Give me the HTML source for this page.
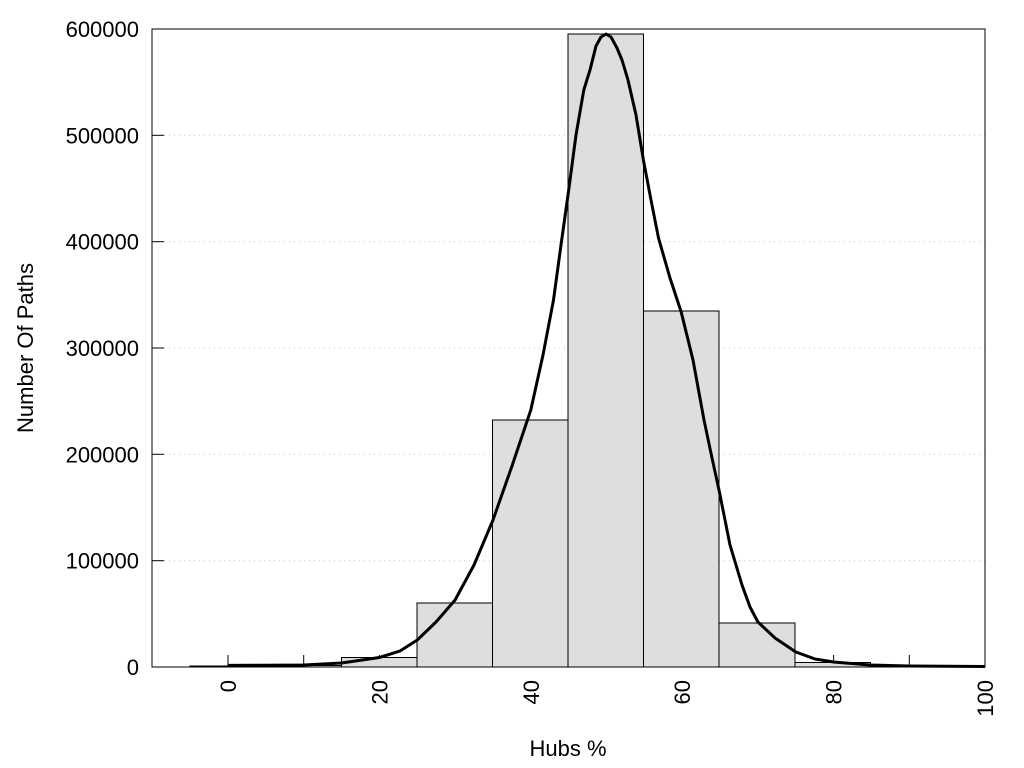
<!DOCTYPE html>
<html><head><style>body{margin:0;background:#fff}svg{display:block}text{font-family:"Liberation Sans",Arial,sans-serif;font-size:22px;fill:#000}</style></head>
<body>
<svg width="1024" height="768" viewBox="0 0 1024 768">
<g stroke="#c8c8c8" stroke-width="1" stroke-dasharray="1,4">
<line x1="164" y1="560.7" x2="985" y2="560.7"/>
<line x1="164" y1="454.3" x2="985" y2="454.3"/>
<line x1="164" y1="348" x2="985" y2="348"/>
<line x1="164" y1="241.7" x2="985" y2="241.7"/>
<line x1="164" y1="135.3" x2="985" y2="135.3"/>
</g>
<g stroke="#000" stroke-width="1">
<line x1="152" y1="560.7" x2="164" y2="560.7"/><line x1="152" y1="454.3" x2="164" y2="454.3"/><line x1="152" y1="348" x2="164" y2="348"/><line x1="152" y1="241.7" x2="164" y2="241.7"/><line x1="152" y1="135.3" x2="164" y2="135.3"/>
<line x1="228" y1="667" x2="228" y2="655"/><line x1="303.7" y1="667" x2="303.7" y2="655"/><line x1="379.4" y1="667" x2="379.4" y2="655"/><line x1="455.1" y1="667" x2="455.1" y2="655"/><line x1="530.8" y1="667" x2="530.8" y2="655"/><line x1="606.5" y1="667" x2="606.5" y2="655"/><line x1="682.2" y1="667" x2="682.2" y2="655"/><line x1="757.9" y1="667" x2="757.9" y2="655"/><line x1="833.6" y1="667" x2="833.6" y2="655"/><line x1="909.3" y1="667" x2="909.3" y2="655"/>
</g>
<g fill="#dedede" stroke="#000" stroke-width="1">
<rect x="190" y="666" width="76" height="1"/>
<rect x="266" y="665.5" width="75.5" height="1.5"/>
<rect x="341.5" y="657.5" width="75.5" height="9.5"/>
<rect x="417" y="603" width="75.5" height="64"/>
<rect x="492.5" y="420" width="75.5" height="247"/>
<rect x="568" y="34" width="75.5" height="633"/>
<rect x="643.5" y="311" width="75.5" height="356"/>
<rect x="719" y="623" width="76" height="44"/>
<rect x="795" y="662.5" width="75.5" height="4.5"/>
<rect x="870.5" y="665.5" width="75.5" height="1.5"/>
<rect x="946" y="666" width="39" height="1"/>
</g>
<polyline fill="none" stroke="#000" stroke-width="3" stroke-linejoin="round" points="228,665.4 266,665.2 303.7,665 341.6,663 379.4,657.5 400,651 417.3,640 436,622 455.1,600 474,565 493,520 512,466 530.8,410 543,355 553.5,300 561,245 568.7,190 576,135 583.8,90 590,70 596,46 601,37 606,34 611,37 617,48 622,60 628,80 636,115 643.4,160 651,200 658.5,238 670,278 681.2,312 693,360 704,420 712,458 719,490 730,545 742,585 750,607 757.9,622 775,638 795.8,652 815,659 833.6,662 870,665 909.3,666 985,666.5"/>
<rect x="152" y="29" width="833" height="638" fill="none" stroke="#000" stroke-width="1"/>
<g text-anchor="end">
<text x="139" y="675">0</text><text x="139" y="568.7">100000</text><text x="139" y="462.3">200000</text><text x="139" y="356">300000</text><text x="139" y="249.7">400000</text><text x="139" y="143.3">500000</text><text x="139" y="37">600000</text>
</g>
<g text-anchor="end">
<text transform="translate(236,680) rotate(-90)">0</text>
<text transform="translate(387.4,680) rotate(-90)">20</text>
<text transform="translate(538.8,680) rotate(-90)">40</text>
<text transform="translate(690.2,680) rotate(-90)">60</text>
<text transform="translate(841.6,680) rotate(-90)">80</text>
<text transform="translate(993,680) rotate(-90)">100</text>
</g>
<text x="568" y="756" text-anchor="middle">Hubs %</text>
<text transform="translate(33,348) rotate(-90)" text-anchor="middle">Number Of Paths</text>
</svg>
</body></html>
